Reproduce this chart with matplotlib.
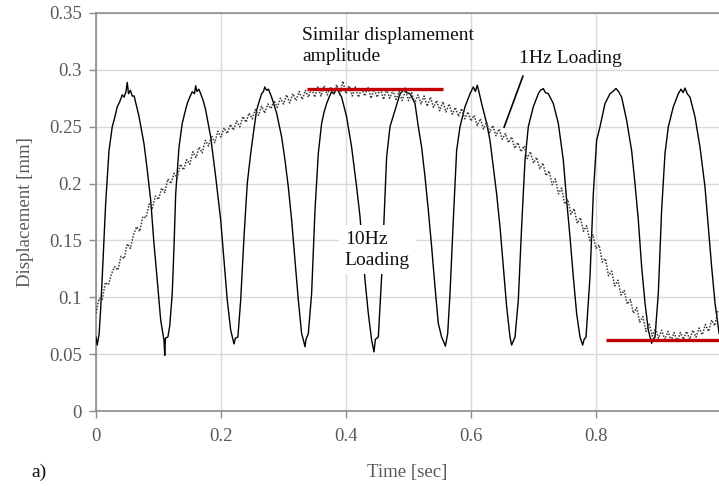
import numpy as np
import matplotlib
matplotlib.use("Agg")
import matplotlib.pyplot as plt

plt.rcParams['font.family'] = ['Liberation Serif', 'DejaVu Serif']

# 10 Hz loading record: time [sec] and displacement [mm]
t_10hz = [
    0.000, 0.002, 0.005, 0.0075, 0.010, 0.0155, 0.0208, 0.026, 0.030, 0.034,
    0.038, 0.042, 0.045, 0.048, 0.050, 0.052, 0.055, 0.058, 0.061, 0.064,
    0.0688, 0.0768, 0.082, 0.0875, 0.0928, 0.098, 0.1035, 0.107, 0.1088, 0.110,
    0.111, 0.115, 0.118, 0.122, 0.1248, 0.1275, 0.1328, 0.138, 0.142, 0.146,
    0.150, 0.154, 0.1575, 0.1595, 0.1615, 0.1645, 0.1675, 0.1715, 0.1755, 0.1835,
    0.1915, 0.1995, 0.2048, 0.210, 0.2155, 0.219, 0.2208, 0.223, 0.227, 0.2315,
    0.2368, 0.242, 0.2475, 0.252, 0.257, 0.261, 0.265, 0.268, 0.270, 0.273,
    0.276, 0.281, 0.289, 0.297, 0.3024, 0.3077, 0.313, 0.3184, 0.3237, 0.329,
    0.332, 0.3344, 0.336, 0.3397, 0.345, 0.3504, 0.3557, 0.361, 0.365, 0.369,
    0.373, 0.377, 0.381, 0.385, 0.389, 0.393, 0.401, 0.409, 0.417, 0.4224,
    0.4304, 0.4357, 0.441, 0.4448, 0.447, 0.4517, 0.457, 0.4597, 0.465, 0.4704,
    0.4784, 0.4864, 0.490, 0.4944, 0.497, 0.5024, 0.5104, 0.5157, 0.521, 0.5264,
    0.5317, 0.537, 0.5424, 0.5477, 0.553, 0.5573, 0.559, 0.5627, 0.5664, 0.5717,
    0.577, 0.5824, 0.5904, 0.5984, 0.6037, 0.607, 0.610, 0.613, 0.617, 0.625,
    0.6304, 0.6357, 0.641, 0.6464, 0.6517, 0.657, 0.6624, 0.665, 0.6704, 0.6757,
    0.681, 0.6864, 0.6917, 0.6997, 0.7077, 0.711, 0.7157, 0.719, 0.7237, 0.7317,
    0.7397, 0.7477, 0.753, 0.7584, 0.7637, 0.769, 0.7744, 0.7787, 0.781, 0.784,
    0.7904, 0.7957, 0.801, 0.8064, 0.8144, 0.8224, 0.827, 0.832, 0.836, 0.841,
    0.849, 0.857, 0.8624, 0.8677, 0.873, 0.8784, 0.8837, 0.889, 0.891, 0.8944,
    0.8997, 0.905, 0.9104, 0.9157, 0.9237, 0.9317, 0.936, 0.9394, 0.9424, 0.946,
    0.9504, 0.9584, 0.9664, 0.9744, 0.9797, 0.985, 0.9904, 0.997,
]
d_10hz = [
    0.065, 0.058, 0.068, 0.090, 0.118, 0.183, 0.229, 0.250, 0.258, 0.2675,
    0.272, 0.278, 0.276, 0.281, 0.289, 0.279, 0.282, 0.277, 0.277, 0.270,
    0.259, 0.235, 0.212, 0.1855, 0.147, 0.115, 0.080, 0.068, 0.062, 0.049,
    0.064, 0.065, 0.075, 0.1034, 0.1445, 0.191, 0.232, 0.253, 0.262, 0.2704,
    0.276, 0.2807, 0.279, 0.286, 0.281, 0.283, 0.279, 0.273, 0.2646, 0.241,
    0.206, 0.168, 0.1327, 0.0976, 0.0712, 0.063, 0.059, 0.064, 0.065, 0.0976,
    0.153, 0.200, 0.2265, 0.245, 0.2646, 0.272, 0.279, 0.281, 0.285, 0.282,
    0.283, 0.276, 0.262, 0.241, 0.2206, 0.197, 0.168, 0.1327, 0.0976, 0.068,
    0.062, 0.0565, 0.063, 0.068, 0.1034, 0.1767, 0.2265, 0.253, 0.263, 0.2704,
    0.276, 0.2807, 0.279, 0.284, 0.280, 0.276, 0.2587, 0.232, 0.197, 0.171,
    0.115, 0.0858, 0.0624, 0.052, 0.063, 0.065, 0.118, 0.153, 0.2235, 0.250,
    0.2646, 0.279, 0.281, 0.284, 0.280, 0.279, 0.2704, 0.250, 0.232, 0.206,
    0.1767, 0.1445, 0.109, 0.077, 0.065, 0.0595, 0.057, 0.068, 0.1034, 0.168,
    0.229, 0.250, 0.2675, 0.279, 0.285, 0.281, 0.2865, 0.280, 0.2704, 0.253,
    0.238, 0.2147, 0.191, 0.162, 0.127, 0.092, 0.065, 0.058, 0.065, 0.0976,
    0.162, 0.2206, 0.250, 0.2675, 0.279, 0.282, 0.2835, 0.280, 0.279, 0.2704,
    0.253, 0.2206, 0.1855, 0.153, 0.118, 0.0858, 0.065, 0.058, 0.063, 0.065,
    0.118, 0.191, 0.238, 0.250, 0.2704, 0.279, 0.281, 0.2836, 0.281, 0.276,
    0.2557, 0.229, 0.200, 0.168, 0.127, 0.095, 0.0712, 0.0595, 0.063, 0.065,
    0.1034, 0.1767, 0.2265, 0.250, 0.2675, 0.279, 0.283, 0.280, 0.284, 0.279,
    0.276, 0.2587, 0.232, 0.197, 0.162, 0.127, 0.095, 0.068,
]

# 1 Hz loading record, sampled every 5 ms from 0 to 0.995 sec
d_1hz = [
    0.086, 0.099, 0.098, 0.113, 0.111, 0.121, 0.127, 0.124, 0.136, 0.134,
    0.147, 0.143, 0.155, 0.162, 0.158, 0.171, 0.170, 0.182, 0.178, 0.189,
    0.186, 0.196, 0.192, 0.204, 0.200, 0.209, 0.205, 0.217, 0.212, 0.221,
    0.217, 0.228, 0.223, 0.232, 0.227, 0.238, 0.233, 0.242, 0.236, 0.246,
    0.241, 0.249, 0.244, 0.252, 0.247, 0.255, 0.250, 0.259, 0.254, 0.262,
    0.257, 0.265, 0.260, 0.268, 0.262, 0.270, 0.266, 0.273, 0.267, 0.275,
    0.270, 0.278, 0.271, 0.279, 0.273, 0.281, 0.274, 0.282, 0.276, 0.284,
    0.276, 0.285, 0.277, 0.286, 0.278, 0.285, 0.279, 0.287, 0.278, 0.290,
    0.279, 0.286, 0.277, 0.285, 0.276, 0.284, 0.277, 0.285, 0.275, 0.283,
    0.276, 0.284, 0.274, 0.283, 0.275, 0.282, 0.274, 0.281, 0.273, 0.282,
    0.273, 0.280, 0.271, 0.278, 0.270, 0.277, 0.268, 0.276, 0.267, 0.273,
    0.264, 0.272, 0.263, 0.270, 0.261, 0.267, 0.259, 0.266, 0.257, 0.263,
    0.255, 0.260, 0.251, 0.257, 0.248, 0.254, 0.245, 0.251, 0.242, 0.248,
    0.239, 0.244, 0.236, 0.241, 0.231, 0.236, 0.228, 0.233, 0.222, 0.228,
    0.218, 0.223, 0.213, 0.218, 0.207, 0.211, 0.199, 0.204, 0.191, 0.196,
    0.182, 0.186, 0.173, 0.178, 0.165, 0.170, 0.158, 0.163, 0.150, 0.155,
    0.143, 0.146, 0.131, 0.134, 0.119, 0.123, 0.110, 0.115, 0.102, 0.106,
    0.094, 0.098, 0.086, 0.091, 0.078, 0.083, 0.070, 0.077, 0.066, 0.073,
    0.064, 0.071, 0.063, 0.070, 0.062, 0.069, 0.061, 0.069, 0.063, 0.070,
    0.063, 0.071, 0.065, 0.073, 0.067, 0.076, 0.070, 0.080, 0.075, 0.088,
]
t_1hz = np.linspace(0.0, 0.995, len(d_1hz))

# reference amplitude levels (red bars): level, start, end
amp_levels = [0.2836, 0.0621]
amp_starts = [0.337, 0.816]
amp_ends = [0.555, 0.997]

x_ticks = [0, 0.2, 0.4, 0.6, 0.8]
x_ticklabels = ["0", "0.2", "0.4", "0.6", "0.8"]
y_ticks = [0, 0.05, 0.1, 0.15, 0.2, 0.25, 0.3, 0.35]
y_ticklabels = ["0", "0.05", "0.1", "0.15", "0.2", "0.25", "0.3", "0.35"]

GRAY_TXT = "#595959"
SPINE = "#8c8c8c"
GRID = "#d9d9d9"

fig = plt.figure(figsize=(7.19, 4.86), dpi=100)
ax = fig.add_axes([96 / 719, 1 - 411 / 486, 1 - 96 / 719, (411 - 13) / 486])

ax.set_xlim(0, 0.9968)
ax.set_ylim(0, 0.35)
ax.set_xticks(x_ticks)
ax.set_xticklabels(x_ticklabels)
ax.set_yticks(y_ticks)
ax.set_yticklabels(y_ticklabels)

ax.grid(True, color=GRID, linewidth=1.0, zorder=0)
ax.set_axisbelow(True)
for side in ("left", "bottom", "top"):
    ax.spines[side].set_color(SPINE)
    ax.spines[side].set_linewidth(1.2)
ax.spines["right"].set_visible(False)
ax.tick_params(axis="both", direction="out", length=5, width=1.0,
               color=SPINE, labelcolor=GRAY_TXT, labelsize=13.5)
ax.tick_params(axis="x", pad=7)
ax.tick_params(axis="y", pad=5)

ax.plot(t_10hz, d_10hz, color="black", linewidth=1.0, zorder=3)
ax.plot(t_1hz, d_1hz, color="#3a3a3a", linewidth=1.1, linestyle=(0, (1, 1)), zorder=4)
ax.hlines(amp_levels, amp_starts, amp_ends, colors="#c00000", linewidth=2.4, zorder=5)

ax.set_xlabel("Time [sec]", fontsize=13.5, color=GRAY_TXT, labelpad=14)
ax.set_ylabel("Displacement [mm]", fontsize=13.5, color=GRAY_TXT, labelpad=11)

ax.text(0.330, 0.3375, "Similar displamement\namplitude", fontsize=14,
        color="#111111", va="top", ha="left", linespacing=1.3, zorder=6)
ax.text(0.677, 0.3058, "1Hz Loading", fontsize=14, color="#111111",
        va="baseline", ha="left", zorder=6)
ax.plot([0.683, 0.653], [0.2944, 0.2496], color="black", linewidth=1.2,
        zorder=6)
ax.text(0.398, 0.1585, "10Hz\nLoading", fontsize=14, color="#111111",
        va="top", ha="left", linespacing=1.3, zorder=6,
        bbox=dict(facecolor="white", edgecolor="none", pad=4))

fig.text(31 / 719, 1 - 472 / 486, "a)", fontsize=14, color="#111111",
         va="center", ha="left")

fig.savefig("out.png", dpi=100)
